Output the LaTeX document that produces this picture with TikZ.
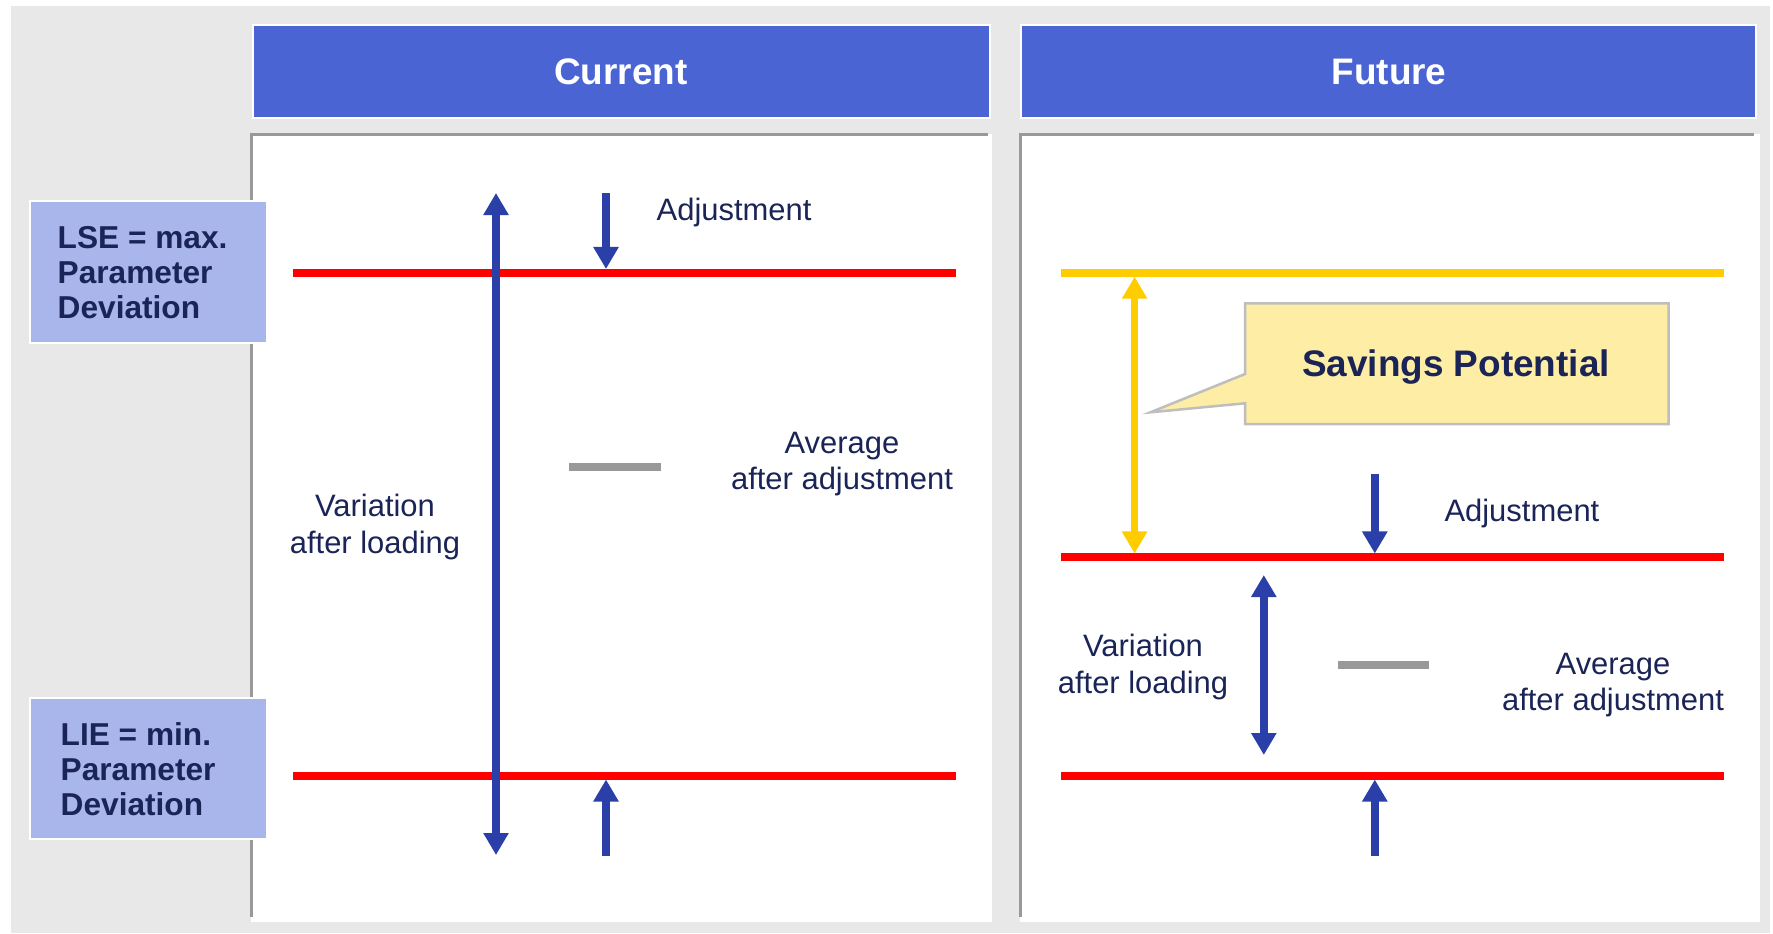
\documentclass[tikz,border=0pt]{standalone}
\usepackage{fontspec}
\setmainfont{Liberation Sans}
\usetikzlibrary{arrows.meta}

\definecolor{bggray}{RGB}{232,232,232}
\definecolor{framegray}{RGB}{153,153,153}
\definecolor{hdrblue}{RGB}{74,100,212}
\definecolor{lblblue}{RGB}{169,182,235}
\definecolor{navy}{RGB}{26,36,86}
\definecolor{arrblue}{RGB}{42,63,168}
\definecolor{limyellow}{RGB}{255,204,0}
\definecolor{callfill}{RGB}{254,237,165}
\definecolor{callline}{RGB}{190,190,190}

\tikzset{
  hdr/.style={fill=hdrblue,draw=white,line width=0.02cm},
  hdrtext/.style={text=white,font=\bfseries\fontsize{10.5}{12}\selectfont,anchor=base,inner sep=0pt},
  lbl/.style={fill=lblblue,draw=white,line width=0.02cm},
  lbltext/.style={text=navy,font=\bfseries\fontsize{9}{9.96}\selectfont,align=left,anchor=north west,inner sep=0pt},
  txt/.style={text=navy,font=\fontsize{8.8}{10.25}\selectfont,align=center,inner sep=0pt},
  limline/.style={draw=red,line width=0.08cm},
  avgbar/.style={draw=framegray,line width=0.08cm},
  adj/.style={draw=arrblue,line width=0.075cm,-{Triangle[width=0.24cm,length=0.22cm]}},
  var/.style={adj,{Triangle[width=0.24cm,length=0.22cm]}-{Triangle[width=0.24cm,length=0.22cm]}}
}

\begin{document}
\begin{tikzpicture}[x=0.01cm,y=-0.01cm]
        \useasboundingbox (0,0) rectangle (1773,933) ;
        \fill[white] (0,0) rectangle (1773,933) ;
        \fill[bggray] (11,6) rectangle (1770,933) ;

        % the two panels
        \fill[white] (251,134) rectangle (992,922) ;
        \draw[framegray,line width=0.03cm] (251,917) -- (251,134) -- (988,134) ;
        \fill[white] (1020,134) rectangle (1760,922) ;
        \draw[framegray,line width=0.03cm] (1020,917) -- (1020,134) -- (1754,134) ;

        % headers
        \draw[hdr] (253,25) rectangle (990,118) ;
        \node[hdrtext] (curhdr) at (621,84) {Current} ;
        \draw[hdr] (1021,25) rectangle (1756,118) ;
        \node[hdrtext] (futhdr) at (1389,84) {Future} ;

        % limit labels on the left
        \draw[lbl] (30,201) rectangle (267,343) ;
        \node[lbltext] (lse) at (57,225.5) {LSE = max.\\Parameter\\Deviation} ;
        \draw[lbl] (30,698) rectangle (267,839) ;
        \node[lbltext] (lie) at (60,722) {LIE = min.\\Parameter\\Deviation} ;

        % current
        \coordinate (cu1) at (293,272.7) ; \coordinate (cu2) at (956,272.7) ;
        \coordinate (cl1) at (293,775.5) ; \coordinate (cl2) at (956,775.5) ;
        \draw[limline] (cu1) -- (cu2) ;
        \draw[limline] (cl1) -- (cl2) ;
        \coordinate (cvtop) at (496,193) ; \coordinate (cvbot) at (496,855) ;
        \draw[var] (cvbot) -- (cvtop) ;
        \coordinate (cadj1) at (606,193) ; \coordinate (cadj2) at (606,269) ;
        \draw[adj] (cadj1) -- (cadj2) ;
        \coordinate (cup1) at (606,856) ; \coordinate (cup2) at (606,779.5) ;
        \draw[adj] (cup1) -- (cup2) ;
        \draw[avgbar] (569,466.7) -- (661,466.7) ;
        \node[txt,anchor=base west] (cadjtxt) at (656,220.7) {Adjustment} ;
        \node[txt] (cavgtxt) at (842,464) {Average\\after adjustment} ;
        \node[txt] (cvartxt) at (375,527) {Variation\\after loading} ;

        % future
        \coordinate (fy1) at (1061,272.7) ; \coordinate (fy2) at (1724,272.7) ;
        \coordinate (fu1) at (1061,557.3) ; \coordinate (fu2) at (1724,557.3) ;
        \coordinate (fl1) at (1061,775.7) ; \coordinate (fl2) at (1724,775.7) ;
        \draw[limline,draw=limyellow] (fy1) -- (fy2) ;
        \draw[limline] (fu1) -- (fu2) ;
        \draw[limline] (fl1) -- (fl2) ;
        \coordinate (fstop) at (1134.6,276.7) ; \coordinate (fsbot) at (1134.6,553.5) ;
        \draw[var,draw=limyellow,fill=limyellow] (fsbot) -- (fstop) ;
        % callout
        \draw[fill=callfill,draw=callline,line width=0.025cm]
        (1245,303.3) -- (1668.6,303.3) -- (1668.6,424) -- (1245,424)
        -- (1245,403.3) -- (1150.4,412.3) -- (1245,374) -- cycle ;
        \node[txt,anchor=base,font=\bfseries\fontsize{10.5}{12}\selectfont] (saving) at (1456,376) {Savings Potential} ;
        \coordinate (fadj1) at (1374.8,474) ; \coordinate (fadj2) at (1374.8,553.5) ;
        \draw[adj] (fadj1) -- (fadj2) ;
        \coordinate (fvtop) at (1263.8,575) ; \coordinate (fvbot) at (1263.8,755) ;
        \draw[var] (fvbot) -- (fvtop) ;
        \coordinate (fup1) at (1374.8,856) ; \coordinate (fup2) at (1374.8,779.5) ;
        \draw[adj] (fup1) -- (fup2) ;
        \draw[avgbar] (1338,664.7) -- (1429,664.7) ;
        \node[txt,anchor=base west] (fadjtxt) at (1443.8,521.7) {Adjustment} ;
        \node[txt] (favgtxt) at (1613,685) {Average\\after adjustment} ;
        \node[txt] (fvartxt) at (1143,667) {Variation\\after loading} ;
      \end{tikzpicture}
\end{document}
